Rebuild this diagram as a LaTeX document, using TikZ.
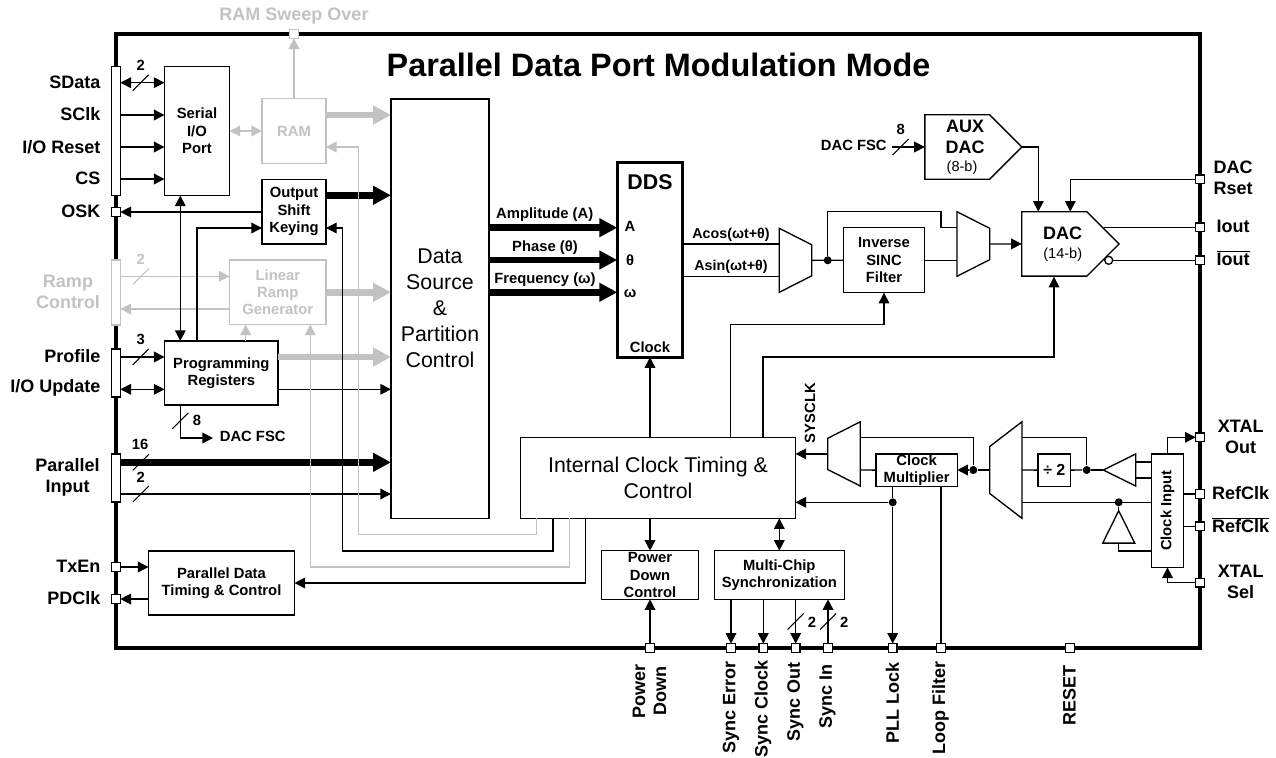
\documentclass[tikz,border=0pt]{standalone}
\usepackage{fontspec}
\setmainfont{Liberation Sans}
\usetikzlibrary{shapes,arrows.meta,calc}
\colorlet{ghost}{black!24}

\begin{document}
\begin{tikzpicture}[%
    x=0.75pt, y=-0.75pt,         % One unit is one pixel of the sheet
    >={Triangle[length=8pt,width=8pt]},
    line width=1pt,
    ]
% -------------------------------------------------
% Box, text and line styles
\tikzset{
  wh/.style 2 args={minimum width=#1*0.75pt, minimum height=#2*0.75pt},
  base/.style={draw, align=center, inner sep=0pt, outer sep=0pt, font=\boxf},
  proc/.style={base, rectangle},
  gproc/.style={proc, draw=ghost, text=ghost},
  bar/.style={proc, fill=white, minimum width=6.5pt},
  pad/.style={proc, fill=white, minimum size=6.5pt},
  dot/.style={circle, fill=black, inner sep=0pt, minimum size=6pt},
  bubl/.style={circle, draw, fill=white, inner sep=0pt, minimum size=6pt},
  conv/.style={base, signal, signal to=east, signal pointer angle=90},
  mux/.style={draw, trapezium, trapezium stretches=true, trapezium left angle=63.4,
    trapezium right angle=63.4, inner sep=0pt, outer sep=0pt},
  buff/.style={draw, isosceles triangle, isosceles triangle stretches=true, inner sep=0pt,
    outer sep=0pt, minimum width=24pt, minimum height=24.3pt},
  % plain text
  lab/.style={align=center, inner sep=0pt, font=\labf},
  small/.style={align=center, inner sep=0pt, font=\boxf},
  vlab/.style={lab, rotate=90, anchor=east},
  % connectors
  gl/.style={draw=ghost},
  heavy/.style={line width=5.2pt, -{Triangle[length=13.5pt,width=13.5pt]}},
  gheavy/.style={heavy, draw=ghost},
  busmark/.pic={\draw[-, line width=0.8pt] (-8,8) -- (8,-8);}
}
\newcommand{\boxf}{\fontsize{11.1}{13}\selectfont\bfseries}
\newcommand{\labf}{\fontsize{13.5}{15.6}\selectfont\bfseries}
\newcommand{\bigf}{\fontsize{16}{19.5}\selectfont}
\useasboundingbox (0,0) rectangle (1276,757);
% -------------------------------------------------
% Chip outline and title
\node [draw, line width=3pt, wh={1084}{614}, inner sep=0pt] (chip) at (658,341) {};
\node [lab, font=\fontsize{24.3}{28}\selectfont\bfseries] (title) at (658.5,65) {Parallel Data Port Modulation Mode};
% -------------------------------------------------
% Rows of the signals
\coordinate (rsd) at (116,82.7);
\coordinate (rsc) at (116,115);
\coordinate (rio) at (116,147);
\coordinate (rcs) at (116,179);
\coordinate (rr1) at (116,276.3);
\coordinate (rr2) at (116,309);
\coordinate (rpf) at (116,357);
\coordinate (rup) at (116,389.3);
\coordinate (rp1) at (116,462.3);
\coordinate (rp2) at (116,494);
% -------------------------------------------------
% Place the boxes
\node [proc, wh={65}{129}] (sio) at (197,131) {Serial\\I/O\\Port};
\node [gproc, wh={64}{64.5}] (ram) at (294,131) {RAM};
\node [proc, wh={64}{64.5}] (osk) at (294,211.7) {Output\\Shift\\Keying};
\node [gproc, wh={96.5}{64.5}] (lrg) at (277.8,292.3) {Linear\\Ramp\\Generator};
\node [proc, wh={113.5}{64}] (prg) at (221.3,373) {Programming\\Registers};
\node [proc, wh={146}{64.3}] (pdt) at (221.5,583) {Parallel Data\\Timing \& Control};
\node [proc, font=\bigf, wh={98}{419.5}] (dsp) at (440,308.7) {Data\\Source\\\&\\Partition\\Control};
\node [proc, line width=2.6pt, wh={65.5}{194.5}] (dds) at (650,260) {};
\node [proc, font=\bigf, wh={275}{81}] (ict) at (658,477.8) {Internal Clock Timing \&\\Control};
\node [proc, wh={97.4}{48.6}] (pdc) at (650,575) {Power\\Down\\Control};
\node [proc, wh={130}{48.6}] (mcs) at (779.3,575) {Multi-Chip\\Synchronization};
\node [proc, wh={81.5}{65}] (isf) at (884,260.2) {Inverse\\SINC\\Filter};
\node [proc, wh={81.3}{32.3}] (clm) at (916.6,470.1) {Clock\\Multiplier};
\node [proc, wh={32.7}{32.3}, font=\fontsize{12}{14}\selectfont\bfseries] (dv2) at (1054.3,470.1) {÷ 2};
\node [proc, wh={32.4}{113.3}] (cki) at (1167.5,510.7) {\rotatebox{90}{Clock Input}};
% Converters
\node [conv, wh={97}{64.6}] (aux) at (957.2,147) {};
\node [conv, wh={97.3}{64.4}] (dac) at (1054.3,243.9) {};
% Selectors and buffers
\node [mux, rotate=-90, wh={64}{32.4}] (mx1) at (795.5,260.3) {\phantom{x}};
\node [mux, rotate=-90, wh={64.6}{32.7}] (mx2) at (973.3,244) {\phantom{x}};
\node [mux, rotate=90, wh={64.3}{32.6}] (mx3) at (844,453.9) {\phantom{x}};
\node [mux, rotate=90, wh={96.6}{32.3}] (mx4) at (1005.8,470) {\phantom{x}};
\node [buff, shape border rotate=180, anchor=apex] (bf1) at (1103.3,470) {\phantom{x}};
\node [buff, shape border rotate=90, anchor=apex] (bf2) at (1118.7,510.7) {\phantom{x}};
% Heavy buses go under the thin lines
\draw [gheavy] (ram.east |- 0,115) -- (dsp.west |- 0,115);
\draw [heavy] (osk.east |- 0,195.3) -- (dsp.west |- 0,195.3);
\draw [gheavy] (lrg.east) -- (dsp.west |- lrg.east);
\draw [gheavy] (prg.east |- rpf) -- (dsp.west |- rpf);
\draw [heavy] (rp1) -- pic[pos=.09]{busmark} (dsp.west |- rp1);
\draw [heavy] (dsp.east |- 0,227.7) -- (dds.west |- 0,227.7);
\draw [heavy] (dsp.east |- dds.west) -- (dds.west);
\draw [heavy] (dsp.east |- 0,292.3) -- (dds.west |- 0,292.3);
% Bars and pads on the chip outline
\node [bar, wh={8.7}{129}] (b1) at (116,131) {};
\node [bar, draw=ghost, wh={8.7}{65}] (b2) at (116,292.5) {};
\node [bar, wh={8.7}{48}] (b3) at (116,373) {};
\node [bar, wh={8.7}{48}] (b4) at (116,478) {};
\node [pad] (posk) at (116,212) {};
\node [pad] (ptx) at (116,567) {};
\node [pad] (ppd) at (116,599) {};
\node [pad, draw=ghost] (psw) at (294,34) {};
\node [pad] (prs) at (1200,179.3) {};
\node [pad] (pio) at (1200,227.3) {};
\node [pad] (pib) at (1200,260.3) {};
\node [pad] (pxo) at (1200,437.3) {};
\node [pad] (prc) at (1200,494) {};
\node [pad] (prb) at (1200,526.3) {};
\node [pad] (pxs) at (1200,582.7) {};
\node [pad] (ppw) at (650,648) {};
\node [pad] (per) at (731,648) {};
\node [pad] (pcl) at (763.3,648) {};
\node [pad] (pso) at (795.7,648) {};
\node [pad] (psi) at (828,648) {};
\node [pad] (plk) at (892.7,648) {};
\node [pad] (plf) at (941,648) {};
\node [pad] (prt) at (1070,648) {};
% Dots
\node [dot] (d1) at (827.7,260.3) {};
\node [dot] (d2) at (973.3,470) {};
\node [dot] (d3) at (1086.7,470) {};
\node [dot] (d4) at (1118.7,502.3) {};
\node [dot] (d5) at (892.7,502.3) {};
\node [bubl] (bb) at (1108.7,260.3) {};
% -------------------------------------------------
% Invisible corner nodes
\coordinate (s1) at (536.7,518.3); \coordinate (c1) at (358.7,534.3); \coordinate (e1) at (326,147);
\coordinate (s2) at (553,518.3);   \coordinate (c2) at (342.7,551);   \coordinate (e2) at (326,228);
\coordinate (s3) at (569.3,518.3); \coordinate (c3) at (310.3,567);
\coordinate (s4) at (585.3,518.3);
\coordinate (t1) at (180.3,341);   \coordinate (t2) at (197,341);     \coordinate (t3) at (245.7,341);
\coordinate (c4) at (180.3,438);   \coordinate (e4) at (213,438);
\coordinate (u1) at (730.3,437.3); \coordinate (c5) at (730.3,324.7);
\coordinate (u2) at (763,437.3);   \coordinate (c6) at (763,357);     \coordinate (e6) at (1054,276.7);
\coordinate (e7) at (779.3,244);   \coordinate (e8) at (779.3,276.3);
\coordinate (c9) at (941,211.7);   \coordinate (e9) at (957,227.7);   \coordinate (e10) at (957,260.3);
\coordinate (i1) at (892,147);
\coordinate (a1) at (1038.3,211.7); \coordinate (a2) at (1070.3,211.7); \coordinate (a3) at (1104,227.3);
\coordinate (k1) at (860.3,437.3); \coordinate (k2) at (860.3,470);   \coordinate (k3) at (989.7,470);
\coordinate (k4) at (1022,437.3);  \coordinate (k5) at (1022,470);    \coordinate (k6) at (1022,502.3);
\coordinate (k7) at (1135.7,462);  \coordinate (k8) at (1135.7,478);  \coordinate (k9) at (1118.7,551);
% -------------------------------------------------
% Simple left/right connections
\draw [<->] (rsd -| b1.east) -- pic[pos=.46]{busmark} (rsd -| sio.west);
\draw [->] (rsc -| b1.east) -- (rsc -| sio.west);
\draw [->] (rio -| b1.east) -- (rio -| sio.west);
\draw [->] (rcs -| b1.east) -- (rcs -| sio.west);
\draw [->] (posk -| osk.west) -- (posk);
\draw [->] (rpf -| b3.east) -- pic[pos=.46]{busmark} (rpf -| prg.west);
\draw [<->] (rup -| b3.east) -- (rup -| prg.west);
\draw [->] (prg.east |- rup) -- (dsp.west |- rup);
\draw [->] (rp2 -| b4.east) -- pic[pos=.076]{busmark} (rp2 -| dsp.west);
\draw [->] (ptx) -- (ptx -| pdt.west);
\draw [->] (ppd -| pdt.west) -- (ppd);
\draw (dds.east |- e7) -- (e7);
\draw (dds.east |- e8) -- (e8);
\draw (mx1.north) -- (isf.west);
\draw (isf.east |- e10) -- (e10);
\draw [->] (mx2.north) -- (dac.west);
\draw [->] (i1) -- pic[pos=.26]{busmark} (i1 -| aux.west);
\draw (a3) -- (pio);
\draw (bb) -- (pib);
\draw (prc) -- (prc -| cki.east);
\draw (prb) -- (prb -| cki.east);
% Ghost parts
\draw [gl, <->] (sio.east |- ram.west) -- (ram.west);
\draw [gl, ->] (ram.north) -- (psw);
\draw [gl, ->] (rr1 -| b2.east) -- pic[pos=.19, color=ghost]{busmark} (rr1 -| lrg.west);
\draw [gl, ->] (rr2 -| lrg.west) -- (rr2 -| b2.east);
\draw [gl, ->] (t3) -- (t3 |- lrg.south);
\draw [gl, ->] (s1) |- (c1) |- (e1);
\draw [gl, ->] (s3) |- (c3) -- (c3 |- lrg.south);
% Corner paths
\draw [->] (s2) |- (c2) |- (e2);
\draw [->] (s4) |- (pdt.east);
\draw [<->] (t1) -- (t1 |- sio.south);
\draw [->] (t2) |- (osk.west |- e2);
\draw [->] (t1 |- prg.south) -- pic[pos=.48]{busmark} (c4) -- (e4);
\draw [->] (u1) -- (c5) -| (isf.south);
\draw [->] (u2) -- (c6) -| (e6);
\draw [->] (dds.south |- ict.north) -- (dds.south);
\draw (d1) |- (c9) |- (e9);
\draw [->] (aux.east) -| (a1);
\draw [->] (prs) -| (a2);
% Clock chain
\draw [->] (mx3.north) -- (mx3.north -| ict.east);
\draw (k1) -| (d2);
\draw (clm.west) -- (k2);
\draw (k3) -- (d2);
\draw [->] (d2) -- (d2 -| clm.east);
\draw (k4) -| (d3);
\draw (k5) -- (dv2.west);
\draw (dv2.east) -- (d3);
\draw (d3) -- (bf1.apex);
\draw (k7) -- (k7 -| cki.west);
\draw (k8) -- (k8 -| cki.west);
\draw (k6) -- (k6 -| cki.west);
\draw (d4) -- (bf2.apex);
\draw (bf2.lower side) |- (k9 -| cki.west);
\draw [->] (cki.north) |- (pxo);
\draw [->] (pxs) -| (cki.south);
\draw [->] (d5) -- (d5 -| ict.east);
\draw (d5 |- clm.south) -- (d5);
% Bottom edge
\draw [->] (d5) -- (plk);
\draw (plf |- clm.south) -- (plf);
\draw [->] (pdc.north |- ict.south) -- (pdc.north);
\draw [->] (ppw) -- (pdc.south);
\draw [<->] (mcs.north |- ict.south) -- (mcs.north);
\draw [->] (per |- mcs.south) -- (per);
\draw [->] (pcl |- mcs.south) -- (pcl);
\draw [->] (pso |- mcs.south) -- pic[pos=.5]{busmark} (pso);
\draw [->] (psi) -- pic[pos=.5]{busmark} (psi |- mcs.south);
% -------------------------------------------------
% Text inside the drawn shapes
\node [lab, font=\fontsize{16}{18}\selectfont\bfseries] (tdds) at (650,182) {DDS};
\node [small] (ta) at (630,226.7) {A};
\node [small] (tt) at (630,260) {θ};
\node [small] (tw) at (630,293.3) {ω};
\node [small] (tc) at (650,347.3) {Clock};
\node [lab] (taux) at (965,137) {AUX\\DAC};
\node [small, font=\fontsize{10.9}{13}\selectfont] (taub) at (962,168) {(8-b)};
\node [lab] (tdac) at (1062.7,233.3) {DAC};
\node [small, font=\fontsize{10.9}{13}\selectfont] (tdab) at (1062.7,254.7) {(14-b)};
% Bus names
\node [small] (n1) at (544.7,214.7) {Amplitude (A)};
\node [small] (n2) at (545,247.3) {Phase (θ)};
\node [small] (n3) at (545,279.7) {Frequency (ω)};
\node [small, font=\fontsize{10.7}{13}\selectfont\bfseries] (n4) at (731,234.7) {Acos(ωt+θ)};
\node [small, font=\fontsize{10.7}{13}\selectfont\bfseries] (n5) at (731,267.3) {Asin(ωt+θ)};
\node [small, rotate=90] (n6) at (810,413) {SYSCLK};
\node [small] (n7) at (853.8,145) {DAC FSC};
\node [small] (n8) at (252.7,436.7) {DAC FSC};
\node [small] (m1) at (140.7,65) {2};
\node [small, text=ghost] (m2) at (140.7,259) {2};
\node [small] (m3) at (140.7,339.5) {3};
\node [small] (m4) at (197,420) {8};
\node [small] (m5) at (140,444.7) {16};
\node [small] (m6) at (140.7,477) {2};
\node [small] (m7) at (900.7,129.5) {8};
\node [small] (m8) at (812,622.3) {2};
\node [small] (m9) at (844.3,622.3) {2};
% Pin names, left side
\node [lab, anchor=east] (l1) at (101,82) {SData};
\node [lab, anchor=east] (l2) at (101,114) {SClk};
\node [lab, anchor=east] (l3) at (101,147) {I/O Reset};
\node [lab, anchor=east] (l4) at (101,178) {CS};
\node [lab, anchor=east] (l5) at (101,211) {OSK};
\node [lab, text=ghost] (l6) at (68,291.5) {Ramp\\Control};
\node [lab, anchor=east] (l7) at (101,356) {Profile};
\node [lab, anchor=east] (l8) at (101,388) {I/O Update};
\node [lab] (l9) at (67.5,477) {Parallel\\Input};
\node [lab, anchor=east] (l10) at (101,566) {TxEn};
\node [lab, anchor=east] (l11) at (101,598) {PDClk};
\node [lab, text=ghost] (l12) at (294,16.5) {RAM Sweep Over};
% Pin names, right side
\node [lab, anchor=west, align=left] (r1) at (1213,178) {DAC\\Rset};
\node [lab] (r2) at (1233,226.7) {Iout};
\node [lab] (r3) at (1233,258) {$\overline{\hbox{\labf Iout}}$};
\node [lab] (r4) at (1240.7,437) {XTAL\\Out};
\node [lab] (r5) at (1240.5,492.7) {RefClk};
\node [lab] (r6) at (1240.5,525) {$\overline{\hbox{\labf RefClk}}$};
\node [lab] (r7) at (1240.7,581.5) {XTAL\\Sel};
% Pin names, bottom side
\node [vlab, anchor=center] (v1) at (649.5,691) {Power\\Down};
\node [vlab] (v2) at (731,661) {Sync Error};
\node [vlab] (v3) at (763,660) {Sync Clock};
\node [vlab] (v4) at (795.5,662) {Sync Out};
\node [vlab] (v5) at (827.5,664) {Sync In};
\node [vlab] (v6) at (892.5,662) {PLL Lock};
\node [vlab] (v7) at (940.5,661) {Loop Filter};
\node [vlab] (v8) at (1069.5,665) {RESET};
\end{tikzpicture}
\end{document}
